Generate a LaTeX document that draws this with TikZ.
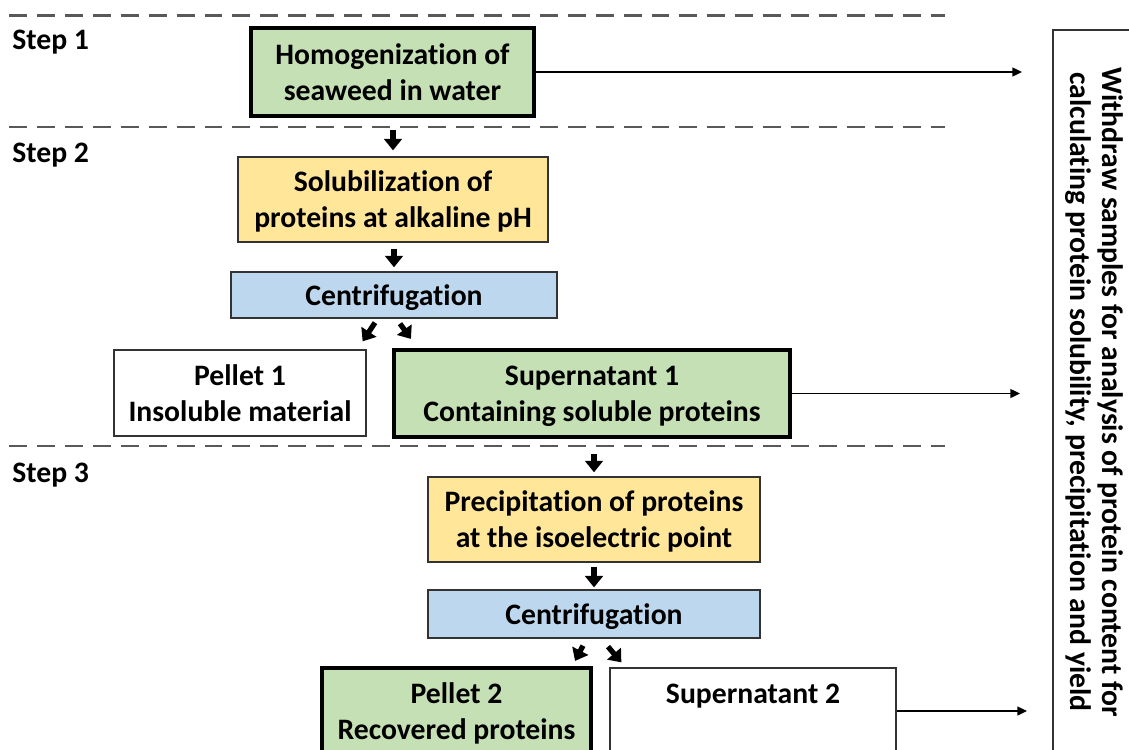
\documentclass[tikz,border=0pt]{standalone}
\usepackage{fontspec}
\setmainfont{Carlito}[Ligatures=NoCommon]
\usetikzlibrary{arrows.meta}
\definecolor{grn}{HTML}{C5E0B4}
\definecolor{ylw}{HTML}{FFE699}
\definecolor{blu}{HTML}{BDD7EE}
\definecolor{dashgray}{HTML}{595959}
\newcommand{\boxtext}[1]{\raisebox{-1.7pt}[\height][\depth]{\begin{tabular}{@{}c@{}}#1\end{tabular}}}
\tikzset{
  box/.style={draw=black!80, line width=0.75pt, inner sep=2pt, font=\bfseries\fontsize{16.9}{20.4}\selectfont},
  thickbox/.style={box, draw=black, line width=2.4pt},
  greenbox/.style={thickbox, fill=grn},
  yellowbox/.style={box, fill=ylw},
  bluebox/.style={box, fill=blu},
  whitebox/.style={box, fill=white},
  steplabel/.style={anchor=base west, inner sep=0pt, font=\bfseries\fontsize{16.9}{20.4}\selectfont},
  divider/.style={dashgray, line width=1.4pt, dash pattern=on 10.2pt off 5.7pt},
  blockarrow/.style={line width=3pt, -{Triangle[width=10pt,length=6.5pt]}},
  samplearrow/.style={line width=1.1pt, -{Triangle[width=5pt,length=5.5pt]}},
}
\begin{document}
\begin{tikzpicture}[x=0.02cm,y=-0.02cm]
\useasboundingbox (0,0) rectangle (1129,750);
\clip (0,0) rectangle (1129,750);

% dividers
\draw[divider] (9,15.5) -- (945,15.5);
\draw[divider] (9,127) -- (945,127);
\draw[divider] (9,446) -- (945,446);

% step labels
\node[steplabel] (st1) at (12,50) {Step 1};
\node[steplabel] (st2) at (12,162) {Step 2};
\node[steplabel] (st3) at (12,482) {Step 3};

% boxes
\node[greenbox, minimum width=5.66cm, minimum height=1.76cm] (homog) at (392.5,72) {\boxtext{Homogenization of\\seaweed in water}};
\node[yellowbox, minimum width=6.2cm, minimum height=1.7cm] (solub) at (393,199.5) {\boxtext{Solubilization of\\proteins at alkaline pH}};
\node[bluebox, minimum width=6.52cm, minimum height=0.92cm] (cent1) at (394,295) {\boxtext{Centrifugation}};
\node[whitebox, minimum width=5.04cm, minimum height=1.72cm] (pel1) at (240,393) {\boxtext{Pellet 1\\Insoluble material}};
\node[greenbox, minimum width=7.92cm, minimum height=1.74cm] (sup1) at (592,393.5) {\boxtext{Supernatant 1\\Containing soluble proteins}};
\node[yellowbox, minimum width=6.64cm, minimum height=1.7cm] (precip) at (594,519.5) {\boxtext{Precipitation of proteins\\at the isoelectric point}};
\node[bluebox, minimum width=6.64cm, minimum height=0.96cm] (cent2) at (594,614) {\boxtext{Centrifugation}};
\node[greenbox, minimum width=5.38cm, minimum height=1.72cm] (pel2) at (456.5,711) {\boxtext{Pellet 2\\Recovered proteins}};
\node[whitebox, minimum width=5.72cm, minimum height=1.72cm] (sup2) at (753,711) {\boxtext{Supernatant 2\\~}};

% right box
\draw[draw=black!80, line width=0.75pt] (1053,30) rectangle (1170,790);
\node[rotate=-90, align=center, inner sep=0pt, font=\bfseries\fontsize{16.9}{18.1}\selectfont] (withdraw) at (1094,392)
  {Withdraw samples for analysis of protein content for\\calculating protein solubility, precipitation and yield};

% sample arrows
\coordinate (t1) at (1022,72);
\coordinate (t2) at (1020,393.5);
\coordinate (t3) at (1027,711);
\draw[samplearrow] (homog.east) -- (t1);
\draw[samplearrow] (sup1.east) -- (t2);
\draw[samplearrow] (sup2.east) -- (t3);

% block arrows
\draw[blockarrow, shorten <=6.8pt, shorten >=3.4pt] (homog.south -| solub.north) -- (solub.north);
\draw[blockarrow, shorten <=3.4pt, shorten >=2.3pt] (solub.south -| cent1.north) -- (cent1.north);
\draw[blockarrow, shorten <=8.5pt, shorten >=2.3pt] (precip.north |- sup1.south) -- (precip.north);
\draw[blockarrow, shorten <=2.3pt, shorten >=1.1pt] (precip.south) -- (cent2.north);

\draw[blockarrow] ([shift={(-19,4)}]cent1.south) -- ([shift={(-4,-8)}]pel1.north east);
\draw[blockarrow] ([shift={(6,5)}]cent1.south) -- ([shift={(19,-9)}]sup1.north west);
\draw[blockarrow] ([shift={(-11,7)}]cent2.south) -- ([shift={(-18,-5)}]pel2.north east);
\draw[blockarrow] ([shift={(14,8)}]cent2.south) -- ([shift={(12,-5)}]sup2.north west);
\end{tikzpicture}
\end{document}
